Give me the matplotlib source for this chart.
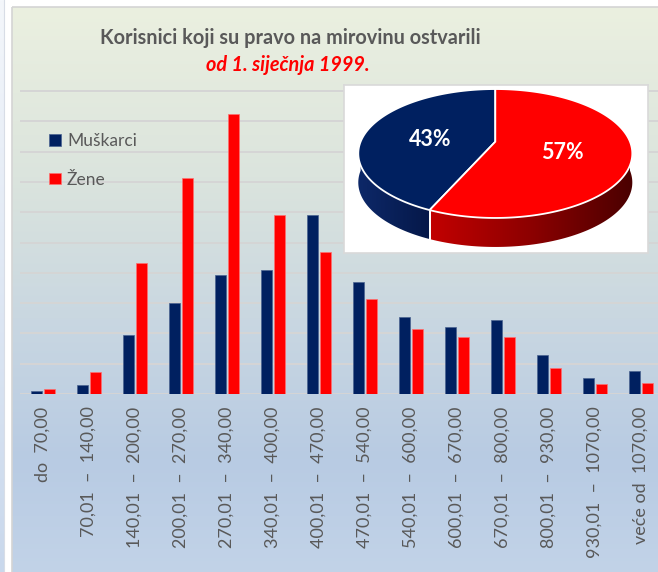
import numpy as np
import matplotlib
matplotlib.use("Agg")
import matplotlib.pyplot as plt
from matplotlib.patches import Polygon, Rectangle
from matplotlib.colors import LinearSegmentedColormap

plt.rcParams['font.family'] = ['Lato', 'DejaVu Sans']

# ---- data -------------------------------------------------------------
categories = [
    "do  70,00",
    "70,01  –  140,00",
    "140,01  –  200,00",
    "200,01  –  270,00",
    "270,01  –  340,00",
    "340,01  –  400,00",
    "400,01  –  470,00",
    "470,01  –  540,00",
    "540,01  –  600,00",
    "600,01  –  670,00",
    "670,01  –  800,00",
    "800,01  –  930,00",
    "930,01  –  1070,00",
    "veće od  1070,00",
]
muskarci = [100, 300, 1940, 3000, 3920, 4100, 5900, 3700, 2550, 2200, 2430, 1290, 540, 750]
zene = [165, 720, 4330, 7140, 9240, 5910, 4700, 3140, 2130, 1880, 1880, 850, 320, 360]
series_labels = ["Muškarci", "Žene"]
title_line1 = "Korisnici koji su pravo na mirovinu ostvarili"
title_line2 = "od 1. siječnja 1999."

NAVY = "#002060"
RED = "#ff0000"
GREY_TXT = "#595959"

W, H = 658, 572
fig = plt.figure(figsize=(W / 100, H / 100), dpi=100)
fig.patch.set_facecolor("white")


def fx(px):
    return px / W


def fy(py):
    return 1 - py / H


# ---- background panel ---------------------------------------------------
bg = fig.add_axes([0, 0, 1, 1], zorder=-10)
bg.set_xlim(0, W)
bg.set_ylim(H, 0)
bg.axis("off")
panel_cmap = LinearSegmentedColormap.from_list(
    "panel",
    [(0.0, "#ebf0e0"), (0.3, "#dbe4dd"), (0.55, "#c9d7e1"),
     (0.8, "#b8cbe3"), (1.0, "#c2d3e8")])
grad = np.linspace(0, 1, 256).reshape(-1, 1)
bg.imshow(grad, cmap=panel_cmap, aspect="auto",
          extent=(11.5, W + 2, H + 1, 7), interpolation="bicubic")
bg.add_patch(Rectangle((11.5, 7), W, H, fill=False, edgecolor="#d4d4d4", lw=1.2))
strip_cmap = LinearSegmentedColormap.from_list("strip", ["#f4f7fb", "#c9d8ec"])
bg.imshow(grad, cmap=strip_cmap, aspect="auto", extent=(0, 3.5, H, 0))
bg.plot([3.8, 3.8], [0, H], color="#d8dde6", lw=0.8)

# ---- bar chart ------------------------------------------------------------
unit_px = 30.3          # pixels per 1000
ymax = 10200
ax_top_px = 394 - ymax / 1000 * unit_px
ax = fig.add_axes([fx(20), fy(394), 644 / W, (394 - ax_top_px) / H])
ax.set_facecolor("none")
x = np.arange(len(categories))
bw = 0.225
off = 0.143
b_m = ax.bar(x - off, muskarci, width=bw, color=NAVY,
             edgecolor="#4a6390", linewidth=0.5, zorder=3, label=series_labels[0])
b_z = ax.bar(x + off, zene, width=bw, color=RED,
             edgecolor="#ff7070", linewidth=0.5, zorder=3, label=series_labels[1])
ax.set_xlim(-0.5, len(categories) - 0.5)
ax.set_ylim(0, ymax)
ax.set_yticks(np.arange(0, 10001, 1000))
ax.yaxis.grid(True, color="#d5d5d5", lw=1.4, zorder=0)
ax.set_axisbelow(True)
ax.tick_params(axis="y", left=False, labelleft=False)
for s in ax.spines.values():
    s.set_visible(False)
ax.set_xticks(x)
ax.set_xticklabels(categories, rotation=90, fontsize=13, color=GREY_TXT)
ax.tick_params(axis="x", length=0, pad=9)

ax.legend(handles=[b_m, b_z], labels=series_labels, loc="upper left",
          bbox_to_anchor=(fx(49), fy(133)), bbox_transform=fig.transFigure,
          frameon=False, fontsize=12.5, labelcolor=GREY_TXT,
          handlelength=0.68, handleheight=0.68, handletextpad=0.35,
          labelspacing=1.3, borderpad=0, borderaxespad=0)

# ---- titles ---------------------------------------------------------------
fig.text(fx(290), fy(38), title_line1, ha="center", va="center",
         fontsize=14.3, fontweight="bold", color=GREY_TXT)
fig.text(fx(288), fy(65), title_line2, ha="center", va="center",
         fontsize=14.3, fontweight="bold", style="italic", color=RED)

# ---- 3D pie inset -----------------------------------------------------------
pax = fig.add_axes([fx(344), fy(253), 304 / W, 168 / H], zorder=5)
pax.set_xlim(344, 648)
pax.set_ylim(253, 85)
pax.set_facecolor("white")
pax.set_xticks([])
pax.set_yticks([])
for s in pax.spines.values():
    s.set_color("#d9d9d9")
    s.set_linewidth(1.2)

totals = [sum(muskarci), sum(zene)]
shares = np.array(totals) / sum(totals)

cx, cy, rx, ry, k, depth = 495.3, 141.7, 134.7, 62.3, 0.183, 29


def proj(r, t):
    tr = np.radians(t)
    s = r * np.sin(tr)
    f = 1 / (1 + k * s)
    return cx + rx * r * np.cos(tr) * f, cy - ry * s * f


top_cols = [NAVY, RED]
side_cmaps = [
    LinearSegmentedColormap.from_list("bside", ["#0d2868", "#051849"]),
    LinearSegmentedColormap.from_list("rside", ["#c20000", "#8c0000", "#4a0000"]),
]
angles = [90]
for sh in shares:
    angles.append(angles[-1] + 360 * sh)

# side walls (front half only)
for i in range(len(shares)):
    a, b = angles[i], angles[i + 1]
    lo, hi = max(a, 180), min(b, 360)
    if hi <= lo:
        continue
    t = np.linspace(lo, hi, 120)
    xs, ys = proj(1, t)
    pts = np.column_stack([np.concatenate([xs, xs[::-1]]),
                           np.concatenate([ys, ys[::-1] + depth])])
    poly = Polygon(pts, closed=True, facecolor="none", edgecolor="none")
    pax.add_patch(poly)
    gx = np.linspace(0, 1, 256).reshape(1, -1)
    im = pax.imshow(gx, cmap=side_cmaps[i], aspect="auto",
                    extent=(xs.min(), xs.max(), ys.max() + depth, ys.min()),
                    zorder=2)
    im.set_clip_path(poly)
    for edge_t in (lo, hi):
        if 180 < edge_t < 360:
            ex, ey = proj(1, edge_t)
            pax.plot([ex, ex], [ey, ey + depth], color="white", lw=1.3, zorder=3)

# top faces
for i in range(len(shares)):
    t = np.linspace(angles[i], angles[i + 1], 200)
    xs, ys = proj(1, t)
    pts = np.column_stack([np.concatenate([[cx], xs]), np.concatenate([[cy], ys])])
    pax.add_patch(Polygon(pts, closed=True, facecolor=top_cols[i],
                          edgecolor="white", lw=1.3, zorder=4))
    mid = (angles[i] + angles[i + 1]) / 2
    lx, ly = proj(0.5, mid)
    pax.text(lx, ly + 4, f"{shares[i] * 100:.0f}%", ha="center", va="center",
             color="white", fontsize=15.5, fontweight="bold", zorder=6)

fig.savefig("out.png", dpi=100)
